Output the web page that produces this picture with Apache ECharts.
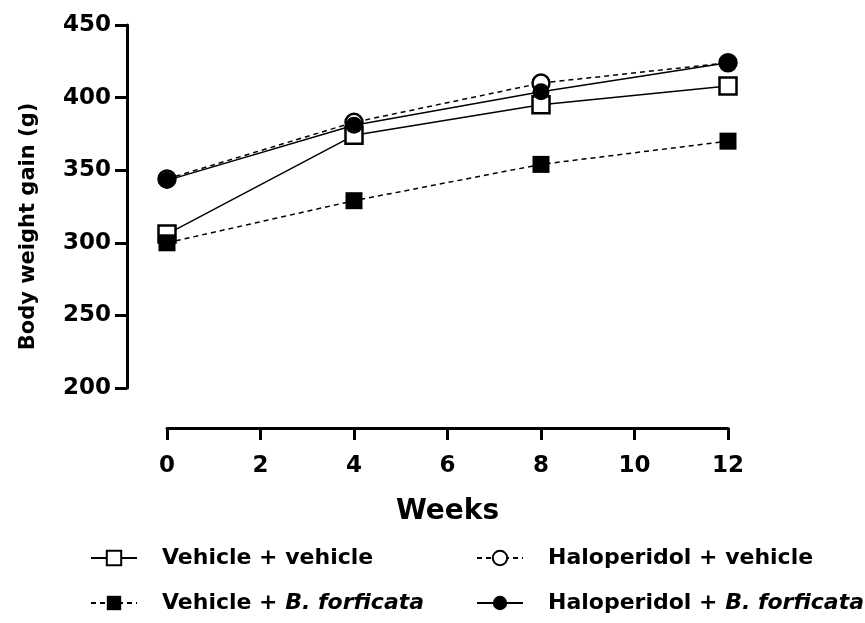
<!DOCTYPE html>
<html><head><meta charset="utf-8">
<script src="https://cdn.jsdelivr.net/npm/echarts@6/dist/echarts.min.js"></script>
<style>html,body{margin:0;padding:0;background:#fff}#c{width:865px;height:623px}</style>
</head><body><div id="c"></div>
<script>
const weeks = [0, 4, 8, 12];
const vehVeh = [306, 374, 395, 408];
const haloVeh = [344, 383, 410, 424];
const vehBf = [300, 329, 354, 370];
const haloBf = [343, 381, 404, 424];
const yTicks = [200, 250, 300, 350, 400, 450];
const xTicks = [0, 2, 4, 6, 8, 10, 12];

const FONT = '"DejaVu Sans", sans-serif';
function pts(v){ return weeks.map((w,i)=>[w, v[i]]); }
function mk(name, data, symbol, filled, dashed){
  return {
    name, type:'line', data: pts(data), symbol, symbolSize: 17,
    lineStyle:{color:'#000', width:1.5, type: dashed ? [5,4] : 'solid'},
    itemStyle:{color: filled ? '#000' : '#fff', borderColor:'#000', borderWidth: filled ? 0 : 2.5},
    emphasis:{disabled:true}, animation:false
  };
}
const legendText = {
  fontFamily: FONT, fontSize: 22, fontWeight:'bold', color:'#000',
  rich:{
    b:{fontFamily: FONT, fontSize:22, fontWeight:'bold', color:'#000', padding:[0,0,0,20]},
    i:{fontFamily: FONT, fontSize:22, fontWeight:'bold', fontStyle:'italic', color:'#000'}
  }
};
function fmt(name){
  const k = name.indexOf('B. forficata');
  if (k >= 0) return '{b|' + name.slice(0,k) + '}{i|B. forficata}';
  return '{b|' + name + '}';
}
const chart = echarts.init(document.getElementById('c'), null, {renderer:'canvas'});
chart.setOption({
  backgroundColor:'#fff',
  animation:false,
  grid:{left:167, right:137, top:25, bottom:235},
  xAxis:{
    type:'value', min:0, max:12, interval:2, offset:40,
    name:'Weeks', nameLocation:'middle', nameGap:70,
    nameTextStyle:{fontFamily:FONT, fontSize:28, fontWeight:'bold', color:'#000'},
    axisLine:{show:true, onZero:false, lineStyle:{color:'#000', width:3}},
    axisTick:{show:true, length:12, lineStyle:{color:'#000', width:3}},
    axisLabel:{margin:27, fontFamily:FONT, fontSize:23, fontWeight:'bold', color:'#000',
      formatter:v=> xTicks.includes(v) ? String(v) : ''},
    splitLine:{show:false}
  },
  yAxis:{
    type:'value', min:200, max:450, interval:50, offset:40,
    name:'Body weight gain (g)', nameLocation:'middle', nameGap:88,
    nameTextStyle:{fontFamily:FONT, fontSize:21, fontWeight:'bold', color:'#000', padding:[0,40,0,0]},
    axisLine:{show:true, onZero:false, lineStyle:{color:'#000', width:3}},
    axisTick:{show:true, length:12, lineStyle:{color:'#000', width:3}},
    axisLabel:{margin:16, fontFamily:FONT, fontSize:23, fontWeight:'bold', color:'#000',
      formatter:v=> yTicks.includes(v) ? String(v) : ''},
    splitLine:{show:false}
  },
  legend:[
    {left:85, top:542, orient:'vertical', itemGap:23, itemWidth:46, itemHeight:18,
     data:['Vehicle + vehicle','Vehicle + B. forficata'], textStyle:legendText, formatter:fmt, selectedMode:false},
    {left:471, top:542, orient:'vertical', itemGap:23, itemWidth:46, itemHeight:18,
     data:['Haloperidol + vehicle','Haloperidol + B. forficata'], textStyle:legendText, formatter:fmt, selectedMode:false}
  ],
  series:[
    mk('Vehicle + vehicle', vehVeh, 'rect', false, false),
    mk('Haloperidol + vehicle', haloVeh, 'circle', false, true),
    mk('Vehicle + B. forficata', vehBf, 'rect', true, true),
    mk('Haloperidol + B. forficata', haloBf, 'circle', true, false)
  ]
});
</script></body></html>
